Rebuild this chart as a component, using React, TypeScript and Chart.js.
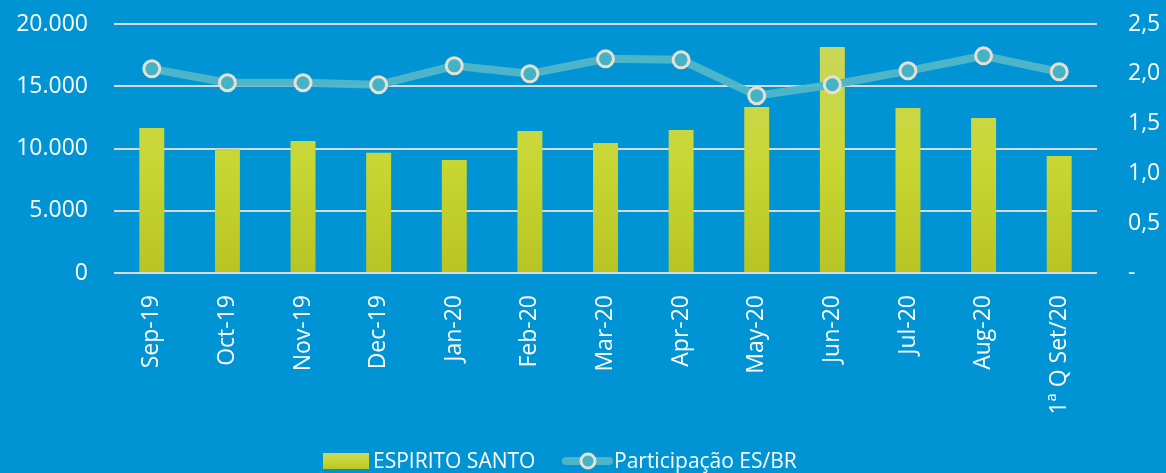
import React, { useEffect, useRef } from "react";
import { Chart, registerables } from "chart.js";

Chart.register(...registerables);

const categories = ["Sep-19", "Oct-19", "Nov-19", "Dec-19", "Jan-20", "Feb-20", "Mar-20", "Apr-20", "May-20", "Jun-20", "Jul-20", "Aug-20", "1ª Q Set/20"];
const espiritoSanto = [11650, 9950, 10600, 9650, 9080, 11400, 10440, 11490, 13330, 18150, 13250, 12450, 9400];
const participacao = [2.05, 1.91, 1.91, 1.89, 2.08, 2.0, 2.15, 2.14, 1.78, 1.89, 2.03, 2.18, 2.02];
const leftTicks = [0, 5000, 10000, 15000, 20000];
const rightTicks = [0, 0.5, 1.0, 1.5, 2.0, 2.5];

const BG = "#0194D4";
const FONT = "'Open Sans', sans-serif";

export default function App() {
  const ref = useRef<HTMLCanvasElement>(null);
  useEffect(() => {
    document.body.style.margin = "0";
    const ctx = ref.current!.getContext("2d")!;
    const legendPlugin = {
      id: "customLegend",
      afterDraw(chart: any) {
        const c = chart.ctx;
        c.save();
        const cy = 461;
        const g = c.createLinearGradient(0, cy - 8, 0, cy + 8);
        g.addColorStop(0, "#CBD85A");
        g.addColorStop(0.5, "#C8D734");
        g.addColorStop(1, "#B9C522");
        c.fillStyle = g;
        c.fillRect(323, cy - 8, 46, 16);
        c.fillStyle = "#FFFFFF";
        c.font = `21px ${FONT}`;
        c.textBaseline = "middle";
        c.textAlign = "left";
        c.fillText("ESPIRITO SANTO", 373, cy + 1);
        c.strokeStyle = "rgba(80,182,200,0.95)";
        c.lineWidth = 8;
        c.lineCap = "round";
        c.beginPath();
        c.moveTo(566, cy);
        c.lineTo(609, cy);
        c.stroke();
        c.beginPath();
        c.arc(588, cy, 7, 0, Math.PI * 2);
        c.fillStyle = "#45B3C6";
        c.fill();
        c.lineWidth = 3;
        c.strokeStyle = "#E6E0D2";
        c.stroke();
        c.fillStyle = "#FFFFFF";
        c.fillText("Participação ES/BR", 614, cy + 1);
        c.restore();
      },
    };
    const chart = new Chart(ctx, {
      type: "bar",
      data: {
        labels: categories,
        datasets: [
          {
            type: "line",
            label: "Participação ES/BR",
            data: participacao,
            yAxisID: "y1",
            borderColor: "rgba(80,182,200,0.95)",
            borderWidth: 8,
            pointRadius: 8,
            pointBorderWidth: 3,
            pointBackgroundColor: "#45B3C6",
            pointBorderColor: "#E6E0D2",
            tension: 0,
            order: 0,
          },
          {
            type: "bar",
            label: "ESPIRITO SANTO",
            data: espiritoSanto,
            yAxisID: "y",
            backgroundColor: (context: any) => {
              const ca = context.chart.chartArea;
              if (!ca) return "#C8D734";
              const g = context.chart.ctx.createLinearGradient(0, ca.top, 0, ca.bottom);
              g.addColorStop(0, "#CBD660");
              g.addColorStop(0.55, "#C8D734");
              g.addColorStop(1, "#B8C423");
              return g;
            },
            barPercentage: 0.33,
            categoryPercentage: 1,
            order: 1,
          },
        ],
      },
      options: {
        animation: false,
        responsive: false,
        maintainAspectRatio: false,
        layout: { padding: { top: 24, bottom: 0, left: 0, right: 0 } },
        plugins: { legend: { display: false }, tooltip: { enabled: false } },
        scales: {
          x: {
            grid: { display: false, drawTicks: false },
            border: { display: false },
            ticks: {
              color: "#FFFFFF",
              font: { family: FONT, size: 23 },
              maxRotation: 90,
              minRotation: 90,
              padding: 22,
              autoSkip: false,
            },
            afterFit(scale: any) {
              scale.height = 200;
              scale.paddingLeft = 0;
              scale.paddingRight = 0;
            },
          },
          y: {
            position: "left",
            min: 0,
            max: 20000,
            afterBuildTicks(scale: any) {
              scale.ticks = leftTicks.map((v) => ({ value: v }));
            },
            grid: { color: "#D9D9D9", lineWidth: 2, drawTicks: false },
            border: { display: false },
            ticks: {
              color: "#FFFFFF",
              font: { family: FONT, size: 23 },
              padding: 26,
              callback: (v: any) => Number(v).toLocaleString("de-DE"),
            },
            afterFit(scale: any) {
              scale.width = 114;
              scale.paddingTop = 0;
              scale.paddingBottom = 0;
            },
          },
          y1: {
            position: "right",
            min: 0,
            max: 2.5,
            afterBuildTicks(scale: any) {
              scale.ticks = rightTicks.map((v) => ({ value: v }));
            },
            grid: { display: false, drawTicks: false },
            border: { display: false },
            ticks: {
              color: "#FFFFFF",
              font: { family: FONT, size: 23 },
              padding: 31,
              callback: (v: any) => (Number(v) === 0 ? "-" : Number(v).toFixed(1).replace(".", ",")),
            },
            afterFit(scale: any) {
              scale.width = 69;
              scale.paddingTop = 0;
              scale.paddingBottom = 0;
            },
          },
        },
      },
      plugins: [legendPlugin],
    });
    return () => chart.destroy();
  }, []);
  return (
    <div style={{ position: "fixed", left: 0, top: 0, width: 1166, height: 473, background: BG }}>
      <canvas ref={ref} width={1166} height={473} style={{ display: "block" }} />
    </div>
  );
}
